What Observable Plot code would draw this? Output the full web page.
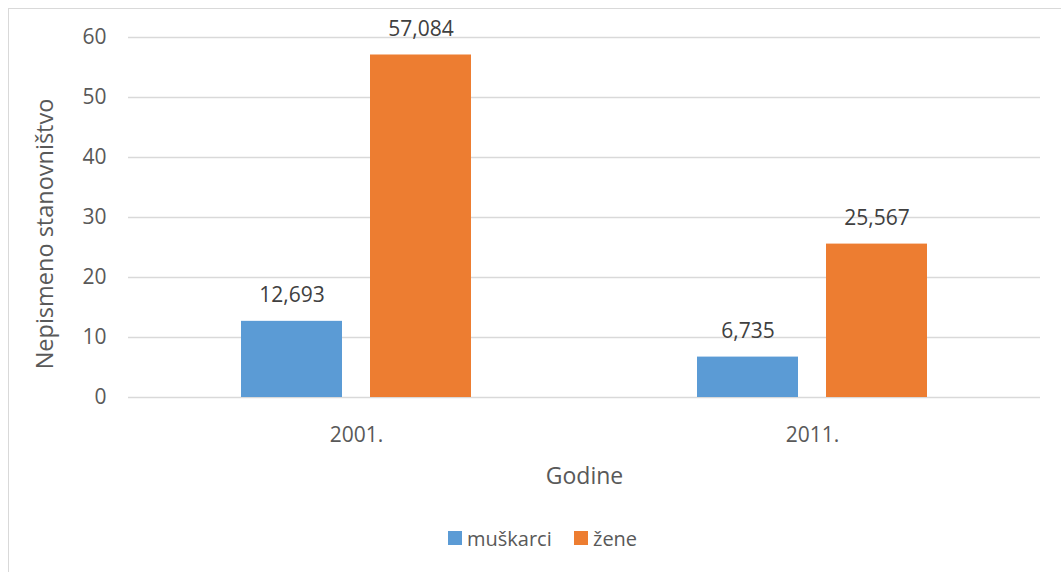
<!DOCTYPE html>
<html>
<head>
<meta charset="utf-8">
<script src="https://cdn.jsdelivr.net/npm/d3@7"></script>
<script src="https://cdn.jsdelivr.net/npm/@observablehq/plot@0.6"></script>
<style>
  html, body { margin: 0; padding: 0; background: #fff; overflow: hidden; }
  body { width: 1061px; height: 572px; position: relative; font-family: "Open Sans", sans-serif; }
  #frame { position: absolute; left: 8px; top: 8px; width: 1100px; height: 600px; border-left: 1.5px solid #d9d9d9; border-top: 1.5px solid #d9d9d9; }
  #chart { position: absolute; left: 0; top: 0; }
  #legend { position: absolute; left: 0; top: 524px; width: 1061px; font-size: 20px; color: #595959; }
  .item { position: absolute; top: 0; display: flex; align-items: center; height: 28px; }
  .sw { width: 14px; height: 14px; margin-right: 5px; }
  #ylabel { position: absolute; left: 44px; top: 234px; transform: translate(-50%, -50%) rotate(-90deg); font-size: 23.5px; color: #595959; white-space: nowrap; }
  #chart svg g[aria-label="fx-axis label"] text { font-size: 23px; }
</style>
</head>
<body>
<div id="frame"></div>
<div id="chart"></div>
<div id="ylabel">Nepismeno stanovništvo</div>
<div id="legend"></div>
<script>
const years = ["2001.", "2011."];
const series = ["muškarci", "žene"];
const muskarci = [12.693, 6.735];
const zene = [57.084, 25.567];
const colors = ["#5B9BD5", "#ED7D31"];
const yTicks = [0, 10, 20, 30, 40, 50, 60];

const data = [];
years.forEach((y, i) => {
  data.push({year: y, sex: series[0], value: muskarci[i]});
  data.push({year: y, sex: series[1], value: zene[i]});
});
const fmt = v => d3.format(".3f")(v).replace(".", ",");

const chart = Plot.plot({
  width: 1061,
  height: 500,
  marginLeft: 128,
  marginRight: 21,
  marginTop: 37,
  marginBottom: 103,
  style: {fontFamily: "Open Sans", fontSize: "21px", color: "#595959", background: "transparent"},
  fx: {domain: years, padding: 0},
  x: {domain: series, paddingInner: 0.215, paddingOuter: 0.862, axis: null},
  y: {domain: [0, 60], ticks: yTicks},
  color: {domain: series, range: colors},
  marks: [
    Plot.ruleY(yTicks, {stroke: "#d9d9d9", strokeWidth: 1.5}),
    Plot.barY(data, {fx: "year", x: "sex", y: "value", fill: "sex"}),
    Plot.text(data, {fx: "year", x: "sex", y: "value", text: d => fmt(d.value), dy: -26, fontSize: 21, fill: "#404040"}),
    Plot.axisY(yTicks, {tickSize: 0, tickPadding: 22, label: null, tickFormat: d => String(d)}),
    Plot.axisFx({anchor: "bottom", tickSize: 0, tickPadding: 30, label: "Godine", labelAnchor: "center", labelOffset: 86})
  ]
});
document.getElementById("chart").appendChild(chart);
// enlarge the axis title text slightly
chart.querySelectorAll("text").forEach(t => { if (t.textContent === "Godine") t.setAttribute("font-size", 23); });

const legend = document.getElementById("legend");
const pos = [448, 574];
series.forEach((s, i) => {
  const it = document.createElement("div");
  it.className = "item";
  it.style.left = pos[i] + "px";
  it.innerHTML = `<div class="sw" style="background:${colors[i]}"></div><span>${s}</span>`;
  legend.appendChild(it);
});
</script>
</body>
</html>
